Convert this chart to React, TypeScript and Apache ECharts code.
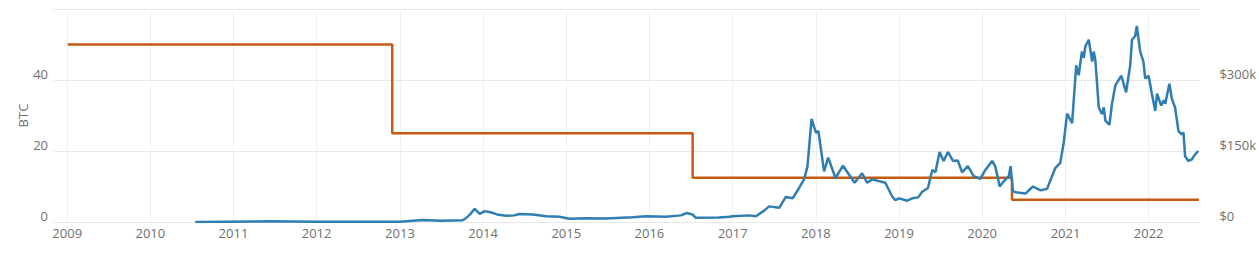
import React, { useEffect, useRef } from "react";
import * as echarts from "echarts";

// Block reward in BTC (step changes at halvings)
const rewardDates = ["2009-01-03", "2012-11-28", "2016-07-09", "2020-05-11", "2022-08-10"];
const rewardBtc = [50, 25, 12.5, 6.25, 6.25];

// USD value of a block reward
const valueDates = [
  "2010-07-17", "2011-06-10", "2012-01-01", "2012-08-15", "2012-12-31", "2013-04-10", "2013-07-01",
  "2013-10-01", "2013-10-12", "2013-11-03", "2013-11-25", "2013-12-17", "2014-01-08", "2014-02-06",
  "2014-03-03", "2014-04-12", "2014-05-18", "2014-06-09", "2014-08-07", "2014-10-05", "2014-12-02",
  "2015-01-15", "2015-03-29", "2015-06-24", "2015-10-19", "2015-12-16", "2016-03-14", "2016-05-18",
  "2016-06-13", "2016-07-08", "2016-07-22", "2016-11-02", "2016-12-16", "2017-01-01", "2017-03-15",
  "2017-04-13", "2017-05-19", "2017-06-10", "2017-07-24", "2017-08-22", "2017-09-21", "2017-10-12",
  "2017-11-10", "2017-11-25", "2017-12-13", "2018-01-01", "2018-01-12", "2018-02-06", "2018-02-24",
  "2018-03-28", "2018-04-30", "2018-06-20", "2018-07-23", "2018-08-14", "2018-09-05", "2018-11-02",
  "2018-12-02", "2018-12-16", "2019-01-01", "2019-02-06", "2019-02-28", "2019-03-26", "2019-04-13",
  "2019-05-08", "2019-05-27", "2019-06-10", "2019-06-28", "2019-07-16", "2019-08-04", "2019-08-26",
  "2019-09-16", "2019-10-05", "2019-10-30", "2019-11-25", "2019-12-24", "2020-01-15", "2020-02-14",
  "2020-02-28", "2020-03-18", "2020-04-05", "2020-04-27", "2020-05-05", "2020-05-15", "2020-05-26",
  "2020-07-09", "2020-08-11", "2020-09-13", "2020-10-12", "2020-11-17", "2020-12-09", "2020-12-24",
  "2021-01-08", "2021-01-30", "2021-02-17", "2021-02-28", "2021-03-14", "2021-03-22", "2021-03-29",
  "2021-04-13", "2021-04-28", "2021-05-05", "2021-05-12", "2021-05-27", "2021-06-10", "2021-06-18",
  "2021-06-25", "2021-07-13", "2021-07-24", "2021-08-08", "2021-09-03", "2021-09-24", "2021-10-12",
  "2021-10-20", "2021-11-03", "2021-11-10", "2021-11-25", "2021-12-09", "2021-12-17", "2022-01-01",
  "2022-01-15", "2022-01-30", "2022-02-07", "2022-02-25", "2022-03-08", "2022-03-15", "2022-04-02",
  "2022-04-13", "2022-04-27", "2022-05-12", "2022-05-26", "2022-06-03", "2022-06-10", "2022-06-24",
  "2022-07-09", "2022-07-24", "2022-08-07",
];
const valueUsd = [
  0, 1500, 300, 600, 350, 4000, 2500,
  3500, 6000, 15000, 28000, 17000, 23000, 20000,
  16000, 13000, 14000, 17000, 16000, 12000, 11000,
  7000, 8000, 7500, 10000, 12000, 11000, 14000,
  19000, 16000, 9000, 9500, 11000, 12000, 14000,
  12000, 24000, 33000, 30000, 53000, 50000, 66000,
  90000, 117000, 218000, 189000, 192000, 107000, 136000,
  93000, 119000, 83000, 103000, 83000, 90000, 83000,
  54000, 46000, 50000, 45000, 50000, 52000, 64000,
  72000, 110000, 105000, 148000, 129000, 148000, 129000,
  130000, 105000, 118000, 97000, 91000, 110000, 129000,
  117000, 75000, 86000, 97000, 118000, 65000, 63000,
  60000, 75000, 67000, 70000, 114000, 125000, 167000,
  229000, 209000, 331000, 310000, 360000, 347000, 371000,
  385000, 339000, 360000, 342000, 242000, 228000, 242000,
  214000, 205000, 250000, 289000, 309000, 274000, 331000,
  385000, 393000, 414000, 360000, 339000, 303000, 309000,
  271000, 235000, 271000, 246000, 257000, 250000, 292000,
  260000, 242000, 192000, 185000, 189000, 139000, 129000,
  132000, 143000, 150000,
];

const yearTicks = [2009, 2010, 2011, 2012, 2013, 2014, 2015, 2016, 2017, 2018, 2019, 2020, 2021, 2022];
const xStart = "2008-11-04";
const xEnd = "2022-08-12";

const FONT = "'Open Sans', sans-serif";
const LABEL_COLOR = "#707070";

const ts = (d: string) => {
  const [y, m, day] = d.split("-").map(Number);
  return Date.UTC(y, m - 1, day);
};

export default function App() {
  const ref = useRef<HTMLDivElement>(null);

  useEffect(() => {
    if (!ref.current) return;
    const chart = echarts.init(ref.current, undefined, { renderer: "svg" });
    const yearValues = yearTicks.map((y) => Date.UTC(y, 0, 1));
    chart.setOption({
      animation: false,
      grid: { left: 54, right: 58, top: 9, bottom: 37, containLabel: false },
      xAxis: {
        type: "value",
        min: ts(xStart),
        max: ts(xEnd),
        axisLine: { show: false },
        axisTick: { show: false, customValues: yearValues },
        axisLabel: {
          customValues: yearValues,
          formatter: (v: number) => String(new Date(v).getUTCFullYear()),
          color: LABEL_COLOR,
          fontFamily: FONT,
          fontSize: 13,
          margin: 4,
        },
        splitLine: { show: true, lineStyle: { color: "#efefef", width: 1 } },
      },
      yAxis: [
        {
          type: "value",
          min: 0,
          max: 60,
          interval: 20,
          name: "BTC",
          nameLocation: "middle",
          nameGap: 25,
          nameMoveOverlap: false,
          nameTextStyle: { color: LABEL_COLOR, fontFamily: FONT, fontSize: 13 },
          axisLine: { show: false },
          axisTick: { show: false },
          axisLabel: {
            formatter: (v: number) => (v === 60 ? "" : String(v)),
            color: LABEL_COLOR,
            fontFamily: FONT,
            fontSize: 13,
            margin: 6,
            verticalAlign: "bottom",
          },
          splitLine: { show: true, lineStyle: { color: "#e8e8e8", width: 1 } },
        },
        {
          type: "value",
          min: 0,
          max: 450000,
          interval: 150000,
          position: "right",
          axisLine: { show: false },
          axisTick: { show: false },
          axisLabel: {
            formatter: (v: number) => (v === 0 ? "$0" : v >= 450000 ? "" : "$" + v / 1000 + "k"),
            color: LABEL_COLOR,
            fontFamily: FONT,
            fontSize: 13,
            margin: 20,
            verticalAlign: "bottom",
          },
          splitLine: { show: false },
        },
      ],
      series: [
        {
          type: "line",
          name: "Block reward (BTC)",
          yAxisIndex: 0,
          step: "end",
          showSymbol: false,
          symbol: "none",
          lineStyle: { color: "#c55a11", width: 2.5 },
          itemStyle: { color: "#c55a11" },
          data: rewardDates.map((d, i) => [ts(d), rewardBtc[i]]),
        },
        {
          type: "line",
          name: "Block reward (USD)",
          yAxisIndex: 1,
          showSymbol: false,
          symbol: "none",
          lineStyle: { color: "#2e7db3", width: 2.5 },
          itemStyle: { color: "#2e7db3" },
          data: valueDates.map((d, i) => [ts(d), valueUsd[i]]),
        },
      ],
    });
    return () => chart.dispose();
  }, []);

  return (
    <div
      ref={ref}
      style={{ position: "fixed", left: 0, top: 0, width: 1259, height: 259, background: "#fff" }}
    />
  );
}
